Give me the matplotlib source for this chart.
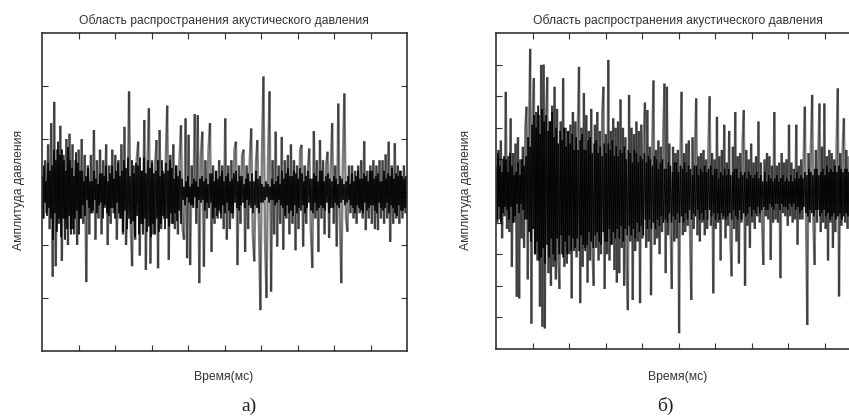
import numpy as np
import matplotlib
matplotlib.use("Agg")
import matplotlib.pyplot as plt
from matplotlib.collections import LineCollection

plt.rcParams['font.family'] = ['Liberation Sans', 'DejaVu Sans']

title_text = "Область распространения акустического давления"
xlabel_text = "Время(мс)"
ylabel_text = "Амплитуда давления"
panel_tags = ["а)", "б)"]

# panel a: pressure amplitude, main oscillation samples
amp_a = [
    0.3, -0.5, 0.6, -0.4, 0.9, -0.7, 1.3, -1.6, 1.7, -1.4,
    0.8, -0.6, 1.25, -1.3, 0.7, -0.5, 1.0, -1.0, 1.1, -0.7,
    0.9, -0.8, 0.6, -1.0, 0.8, -0.5, 1.0, -0.6, 0.7, -1.7,
    0.5, -0.8, 0.7, -0.4, 1.17, -0.9, 0.6, -0.5, 0.8, -0.8,
    0.6, -0.3, 0.9, -1.0, 0.5, -0.6, 0.8, -0.4, 0.7, -0.9,
    0.6, -0.5, 0.9, -0.8, 1.23, -1.0, -0.3, 1.9, -0.6, -1.4,
    0.5, -0.9, 0.6, 0.95, -1.2, 0.4, -0.6, 1.36, -1.47, 0.5,
    1.58, -1.35, 0.6, -0.8, 0.5, 0.98, -1.44, 1.17, -0.7, 0.4,
    -0.5, 0.6, 1.63, -1.28, 0.7, -0.6, 0.9, -0.7, 0.5, -0.8,
    0.6, 1.26, -0.69, -0.9, 1.39, -1.25, 1.08, -1.38, 0.5, -0.3,
    1.47, -0.6, 1.45, -1.72, 0.7, 1.14, -1.41, 0.6, -0.5, 0.8,
    1.3, -1.13, 0.5, -0.6, 0.4, -0.5, 0.6, -0.4, 0.5, -0.7,
    1.39, -0.9, 0.5, -0.7, 0.6, -0.5, 0.8, 0.95, -1.38, 0.5,
    -0.6, 0.7, 0.8, -1.13, 0.5, -0.7, 0.6, 1.2, -0.8, -1.31,
    0.5, 0.98, -0.6, -2.23, 0.7, 2.18, -0.9, -2.0, 0.6, 1.9,
    -1.88, 0.6, -0.8, 1.14, -1.03, 0.5, -0.6, 1.04, -1.09, 0.6,
    -0.5, 0.7, -0.8, 0.9, -0.6, 0.6, -1.1, 0.5, -0.7, 0.8,
    0.89, -1.03, 0.5, -0.6, 0.4, 0.82, -0.7, -1.43, 1.15, -0.5,
    0.6, -1.13, 0.98, -0.5, 0.6, -0.8, 0.5, 0.76, -0.87, 0.4,
    1.3, -0.6, 0.5, -1.03, 1.67, -0.5, -1.72, 0.6, 1.86, -0.5,
    -0.75, 0.5, -0.4, 0.5, -0.5, 0.4, -0.6, 0.5, -0.4, 0.6,
    -0.5, 0.96, -0.72, 0.4, -0.5, 0.5, -0.6, 0.6, -0.7, 0.5,
    -0.72, 0.6, -0.5, 0.6, -0.6, 0.71, -0.5, 0.95, -0.94, 0.5,
    -0.6, 0.92, -0.5, 0.5, -0.6, 0.4, -0.5, 0.5, -0.4, 0.3,
]

# panel a: fine low-amplitude component
fine_a = [
    .3, -.5, .5, -.2, .2, -.45, .55, -.3, .4, -.5,
    .5, -.9, .8, -.4, .6, -.75, .95, -.5, .7, -.85,
    .8, -.5, .6, -.9, .4, -.7, .85, -.45, .6, -.8,
    .45, -.7, .3, -.5, .75, -.35, .55, -.8, .4, -.5,
    .4, -.25, .2, -.45, .3, -.15, .45, -.3, .2, -.4,
    .2, -.35, .4, -.15, .25, -.4, .15, -.25, .35, -.2,
    .35, -.5, .3, -.25, .5, -.4, .2, -.45, .35, -.3,
    .5, -.3, .25, -.5, .4, -.2, .55, -.4, .3, -.5,
    .4, -.75, .6, -.35, .45, -.7, .65, -.5, .3, -.6,
    .6, -.55, .35, -.85, .55, -.45, .5, -.8, .65, -.6,
    .4, -.8, .65, -.5, .35, -.75, .6, -.65, .45, -.85,
    .55, -.6, .35, -.8, .4, -.5, .6, -.75, .3, -.6,
    .6, -.45, .35, -.7, .55, -.5, .4, -.65, .6, -.4,
    .45, -.6, .25, -.4, .5, -.55, .3, -.35, .4, -.6,
    .25, -.15, .1, -.25, .2, -.1, .3, -.2, .1, -.25,
    .15, -.25, .25, -.1, .2, -.3, .1, -.15, .25, -.2,
    .3, -.15, .2, -.35, .25, -.2, .15, -.3, .35, -.2,
    .35, -.5, .2, -.3, .4, -.45, .25, -.35, .3, -.5,
    .4, -.25, .2, -.4, .3, -.2, .35, -.35, .2, -.4,
    .25, -.4, .35, -.2, .4, -.3, .2, -.35, .3, -.25,
    .3, -.2, .15, -.3, .25, -.15, .35, -.25, .2, -.3,
    .35, -.4, .2, -.25, .4, -.3, .25, -.4, .3, -.2,
    .15, -.2, .1, -.15, .2, -.1, .15, -.2, .1, -.15,
    .25, -.15, .15, -.25, .2, -.2, .3, -.15, .15, -.25,
    .4, -.3, .25, -.45, .35, -.25, .45, -.4, .3, -.35,
    .3, -.45, .4, -.25, .35, -.4, .25, -.3, .45, -.35,
    .35, -.25, .2, -.4, .3, -.3, .4, -.2, .25, -.35,
    .25, -.4, .35, -.2, .3, -.35, .2, -.3, .4, -.25,
    .4, -.3, .2, -.35, .3, -.2, .35, -.4, .25, -.3,
    .2, -.3, .3, -.2, .25, -.25, .15, -.3, .3, -.2,
    .25, -.15, .15, -.25, .2, -.2, .3, -.15, .15, -.25,
    .35, -.3, .2, -.4, .3, -.25, .4, -.3, .25, -.35,
    .25, -.4, .35, -.2, .3, -.35, .2, -.3, .4, -.25,
    .4, -.25, .25, -.35, .3, -.4, .35, -.2, .2, -.3,
    .2, -.35, .4, -.3, .25, -.2, .35, -.4, .3, -.25,
    .45, -.3, .25, -.4, .35, -.45, .3, -.25, .4, -.35,
    .3, -.35, .25, -.3, .3, -.25,
]

# panel b: pressure amplitude, main oscillation samples
amp_b = [
    0.8, -1.0, 1.3, -0.9, 1.6, -1.5, 1.0, -0.8, 3.14, -1.2,
    1.1, -1.3, 2.3, -2.4, 1.2, -1.0, 1.5, -3.35, 1.7, -3.4,
    1.0, -1.5, 1.4, -1.8, 2.0, 2.67, -2.8, 1.8, 4.5, -4.2,
    2.3, 3.57, -2.0, 2.5, -2.2, 2.4, -3.66, 3.99, -4.3, 4.0,
    -4.35, 2.4, 3.6, -2.6, 2.2, -3.0, 2.7, -2.4, 3.3, -2.8,
    2.6, -2.2, -3.1, 2.2, -2.0, 3.57, -2.4, 2.0, -2.3, 1.9,
    -2.0, 2.1, -3.4, 2.5, -1.9, 2.2, -2.1, 2.0, 3.93, -3.55,
    2.0, -2.4, 3.1, -1.8, 2.4, -2.9, 1.9, -2.2, 2.6, -1.9,
    -3.0, 2.1, -1.8, 2.5, -2.2, 1.9, -2.0, 2.4, 3.3, -3.1,
    1.8, -2.0, 4.15, -2.2, 1.9, -1.7, 2.3, -2.5, 2.0, -2.9,
    2.2, -2.6, 2.9, -1.8, 2.0, -3.0, 1.7, -2.2, -3.77, 3.04,
    -1.6, 2.0, -3.45, 1.8, -1.9, 2.2, -1.6, 1.9, -3.55, 2.1,
    -1.5, 1.6, 2.8, -1.8, 2.56, -1.6, 1.4, -3.3, 1.5, 3.5,
    -1.7, 1.3, -1.5, 1.6, -2.0, 1.4, -1.3, 1.8, 3.4, -2.6,
    3.3, -1.4, 1.5, -1.2, -3.1, 1.4, -1.6, 1.2, -1.5, 1.3,
    -4.5, 1.0, 3.14, -1.4, 1.2, -1.3, 1.5, -1.1, 1.6, -1.5,
    -3.45, 1.7, -1.2, 1.3, 2.93, -1.4, 1.1, -1.6, 1.2, -1.0,
    1.3, -1.4, 1.0, -1.2, 1.4, 3.0, -1.1, 1.2, -3.24, 1.0,
    -1.2, 2.35, -1.0, 1.1, -2.2, 1.3, -0.9, 2.1, -1.5, 0.9,
    -1.1, 1.9, -1.5, -2.7, 1.4, -1.2, 2.5, -1.6, 1.1, -2.3,
    1.2, -1.0, 1.6, 2.56, -3.0, 1.3, -1.1, 1.0, -1.8, 1.5,
    -1.0, 0.9, -1.2, 1.1, -0.8, 2.2, -1.0, 0.9, -1.1, -2.34,
    1.0, -0.8, 1.2, -0.9, 1.1, -2.18, 0.8, -1.0, 2.5, -0.9,
    0.8, -1.0, 0.9, -2.76, 1.2, -0.7, 0.9, -0.8, 1.0, -1.1,
    2.1, -0.8, 0.9, -1.0, 0.7, -0.9, 2.1, -1.7, 0.8, -0.9,
    1.0, -0.9, 1.1, 2.67, -1.0, -4.24, 1.2, -1.0, 1.5, 3.04,
    -1.1, -2.34, 1.3, -1.0, 1.2, 2.77, -1.3, 1.4, -1.0, 2.77,
    -1.2, 1.1, -2.2, 1.3, -1.0, 1.2, -1.8, 1.0, -1.3, 1.5,
    3.25, -3.34, 1.2, -1.1, 1.4, 2.3, -1.0, 1.3, -1.2, 1.1,
]

# panel b: fine low-amplitude component
fine_b = [
    .7, -.9, 1.2, -.5, .8, -1.0, .6, -.7, 1.1, -.5,
    1.0, -.6, .6, -.9, 1.2, -.5, .8, -1.0, .5, -.8,
    .6, -.4, .9, -.7, .5, -.4, 1.0, -.6, .8, -.9,
    1.1, -.9, 1.7, -1.3, 1.4, -1.6, 2.1, -1.2, 2.4, -2.0,
    2.0, -1.6, 2.7, -2.2, 1.8, -2.1, 2.6, -1.8, 2.2, -2.3,
    2.4, -1.7, 1.9, -2.1, 2.2, -1.5, 2.5, -2.0, 1.7, -2.2,
    2.0, -1.5, 1.5, -2.0, 1.9, -1.4, 1.6, -2.1, 2.0, -1.6,
    1.4, -2.0, 1.9, -1.4, 1.5, -1.9, 1.8, -1.5, 1.3, -1.8,
    1.7, -1.5, 1.3, -1.9, 1.6, -1.4, 1.8, -1.7, 1.3, -1.9,
    1.3, -1.7, 1.6, -1.3, 1.7, -1.6, 1.2, -1.8, 1.5, -1.4,
    1.6, -1.3, 1.2, -1.6, 1.4, -1.7, 1.1, -1.3, 1.5, -1.6,
    1.2, -1.6, 1.5, -1.2, 1.3, -1.7, 1.6, -1.3, 1.1, -1.5,
    1.4, -1.2, 1.1, -1.5, 1.3, -1.1, 1.2, -1.6, 1.4, -1.2,
    1.0, -1.4, 1.3, -1.1, 1.2, -1.4, .9, -1.2, 1.3, -1.5,
    1.2, -1.0, .9, -1.3, 1.1, -1.1, 1.0, -1.4, 1.2, -.9,
    .9, -1.2, 1.1, -.9, 1.0, -1.2, .8, -1.0, 1.1, -1.2,
    1.0, -.9, .7, -1.1, .9, -.8, 1.0, -1.0, .7, -.9,
    .7, -1.0, .9, -.7, .8, -1.0, .6, -.8, .9, -.9,
    .9, -.7, .6, -1.0, .8, -.8, .7, -1.0, .9, -.7,
    .6, -.9, .8, -.6, .7, -.9, .5, -.7, .8, -.8,
    .8, -.6, .5, -.9, .7, -.7, .6, -.9, .8, -.6,
    .6, -.9, .7, -.6, .8, -.8, .5, -.7, .7, -.9,
    .7, -.7, .4, -.9, .6, -.7, .5, -.8, .7, -.9,
    .5, -.8, .7, -.7, .5, -.9, .6, -.6, .7, -.8,
    .7, -.9, .4, -.6, .6, -.9, .5, -.7, .6, -.8,
    .4, -.7, .6, -.5, .5, -.8, .4, -.6, .5, -.7,
    .6, -.5, .4, -.7, .5, -.6, .3, -.5, .6, -.6,
    .3, -.6, .5, -.4, .4, -.5, .3, -.6, .4, -.4,
    .5, -.4, .3, -.6, .4, -.4, .5, -.5, .3, -.5,
    .4, -.6, .3, -.4, .5, -.5, .3, -.4, .4, -.6,
    .6, -.5, .4, -.7, .5, -.6, .4, -.5, .6, -.7,
    .5, -.8, .7, -.6, .6, -.7, .5, -.8, .7, -.6,
    .7, -.6, .5, -.8, .6, -.7, .7, -.6, .5, -.8,
    .8, -.7, .6, -.9, .7, -.8, .6, -.7, .8, -.9,
    .6, -.8, .8, -.7, .7, -.9, .6, -.8, .7, -.7,
    .7, -.8, .6, -.7,
]

t_a = np.linspace(0, 10, len(amp_a))
t_fine_a = np.linspace(0, 10, len(fine_a))
t_b = np.arange(len(amp_b)) * (10 / 299)
t_fine_b = np.arange(len(fine_b)) * (10 / 364)

W, H = 849, 419
fig = plt.figure(figsize=(W / 100, H / 100), dpi=100)

def px_axes(x0, y0, x1, y1):
    return fig.add_axes([x0 / W, 1 - y1 / H, (x1 - x0) / W, (y1 - y0) / H])

def segments(t, y):
    pts = np.column_stack([t, y])
    return np.stack([pts[:-1], pts[1:]], axis=1)

def trace(ax, t, amp, tf, fine):
    # each step is its own segment so overlapping strokes darken
    ax.add_collection(LineCollection(segments(tf, fine), colors=[(0, 0, 0, 0.85)],
                                     linewidths=1.0, capstyle='butt'))
    ax.add_collection(LineCollection(segments(t, amp), colors=[(0, 0, 0, 0.5)],
                                     linewidths=1.7, capstyle='butt'))

ax_a = px_axes(42, 33, 407, 351)
ax_b = px_axes(496, 33, 861, 349)

panels = [
    (ax_a, t_a, amp_a, t_fine_a, fine_a, 3, 224, 19, 249),
    (ax_b, t_b, amp_b, t_fine_b, fine_b, 5, 678, 466, 665),
]

for (ax, t, amp, tf, fine, ylim, cx, ylx, tagx), tag in zip(panels, panel_tags):
    trace(ax, t, amp, tf, fine)
    ax.set_xlim(0, 10)
    ax.set_ylim(-ylim, ylim)
    ax.set_xticks(np.arange(1, 10))
    ax.set_yticks(np.arange(-ylim + 1, ylim))
    ax.tick_params(direction='in', length=4, width=0.8, color='#333333',
                   top=True, right=True, labelbottom=False, labelleft=False)
    for s in ax.spines.values():
        s.set_linewidth(1.2)
        s.set_color('#333333')

    fig.text(cx / W, 1 - 21 / H, title_text, ha='center', va='center',
             fontsize=8.7, color='#333333')
    fig.text(cx / W, 1 - 377 / H, xlabel_text, ha='center', va='center',
             fontsize=8.7, color='#333333')
    fig.text(ylx / W, 1 - 190 / H, ylabel_text, ha='center', va='center',
             rotation=90, fontsize=8.7, color='#333333')
    fig.text(tagx / W, 1 - 406 / H, tag, ha='center', va='center',
             fontsize=14, family='Liberation Serif', color='#222222')

fig.savefig('out.png', dpi=100)
